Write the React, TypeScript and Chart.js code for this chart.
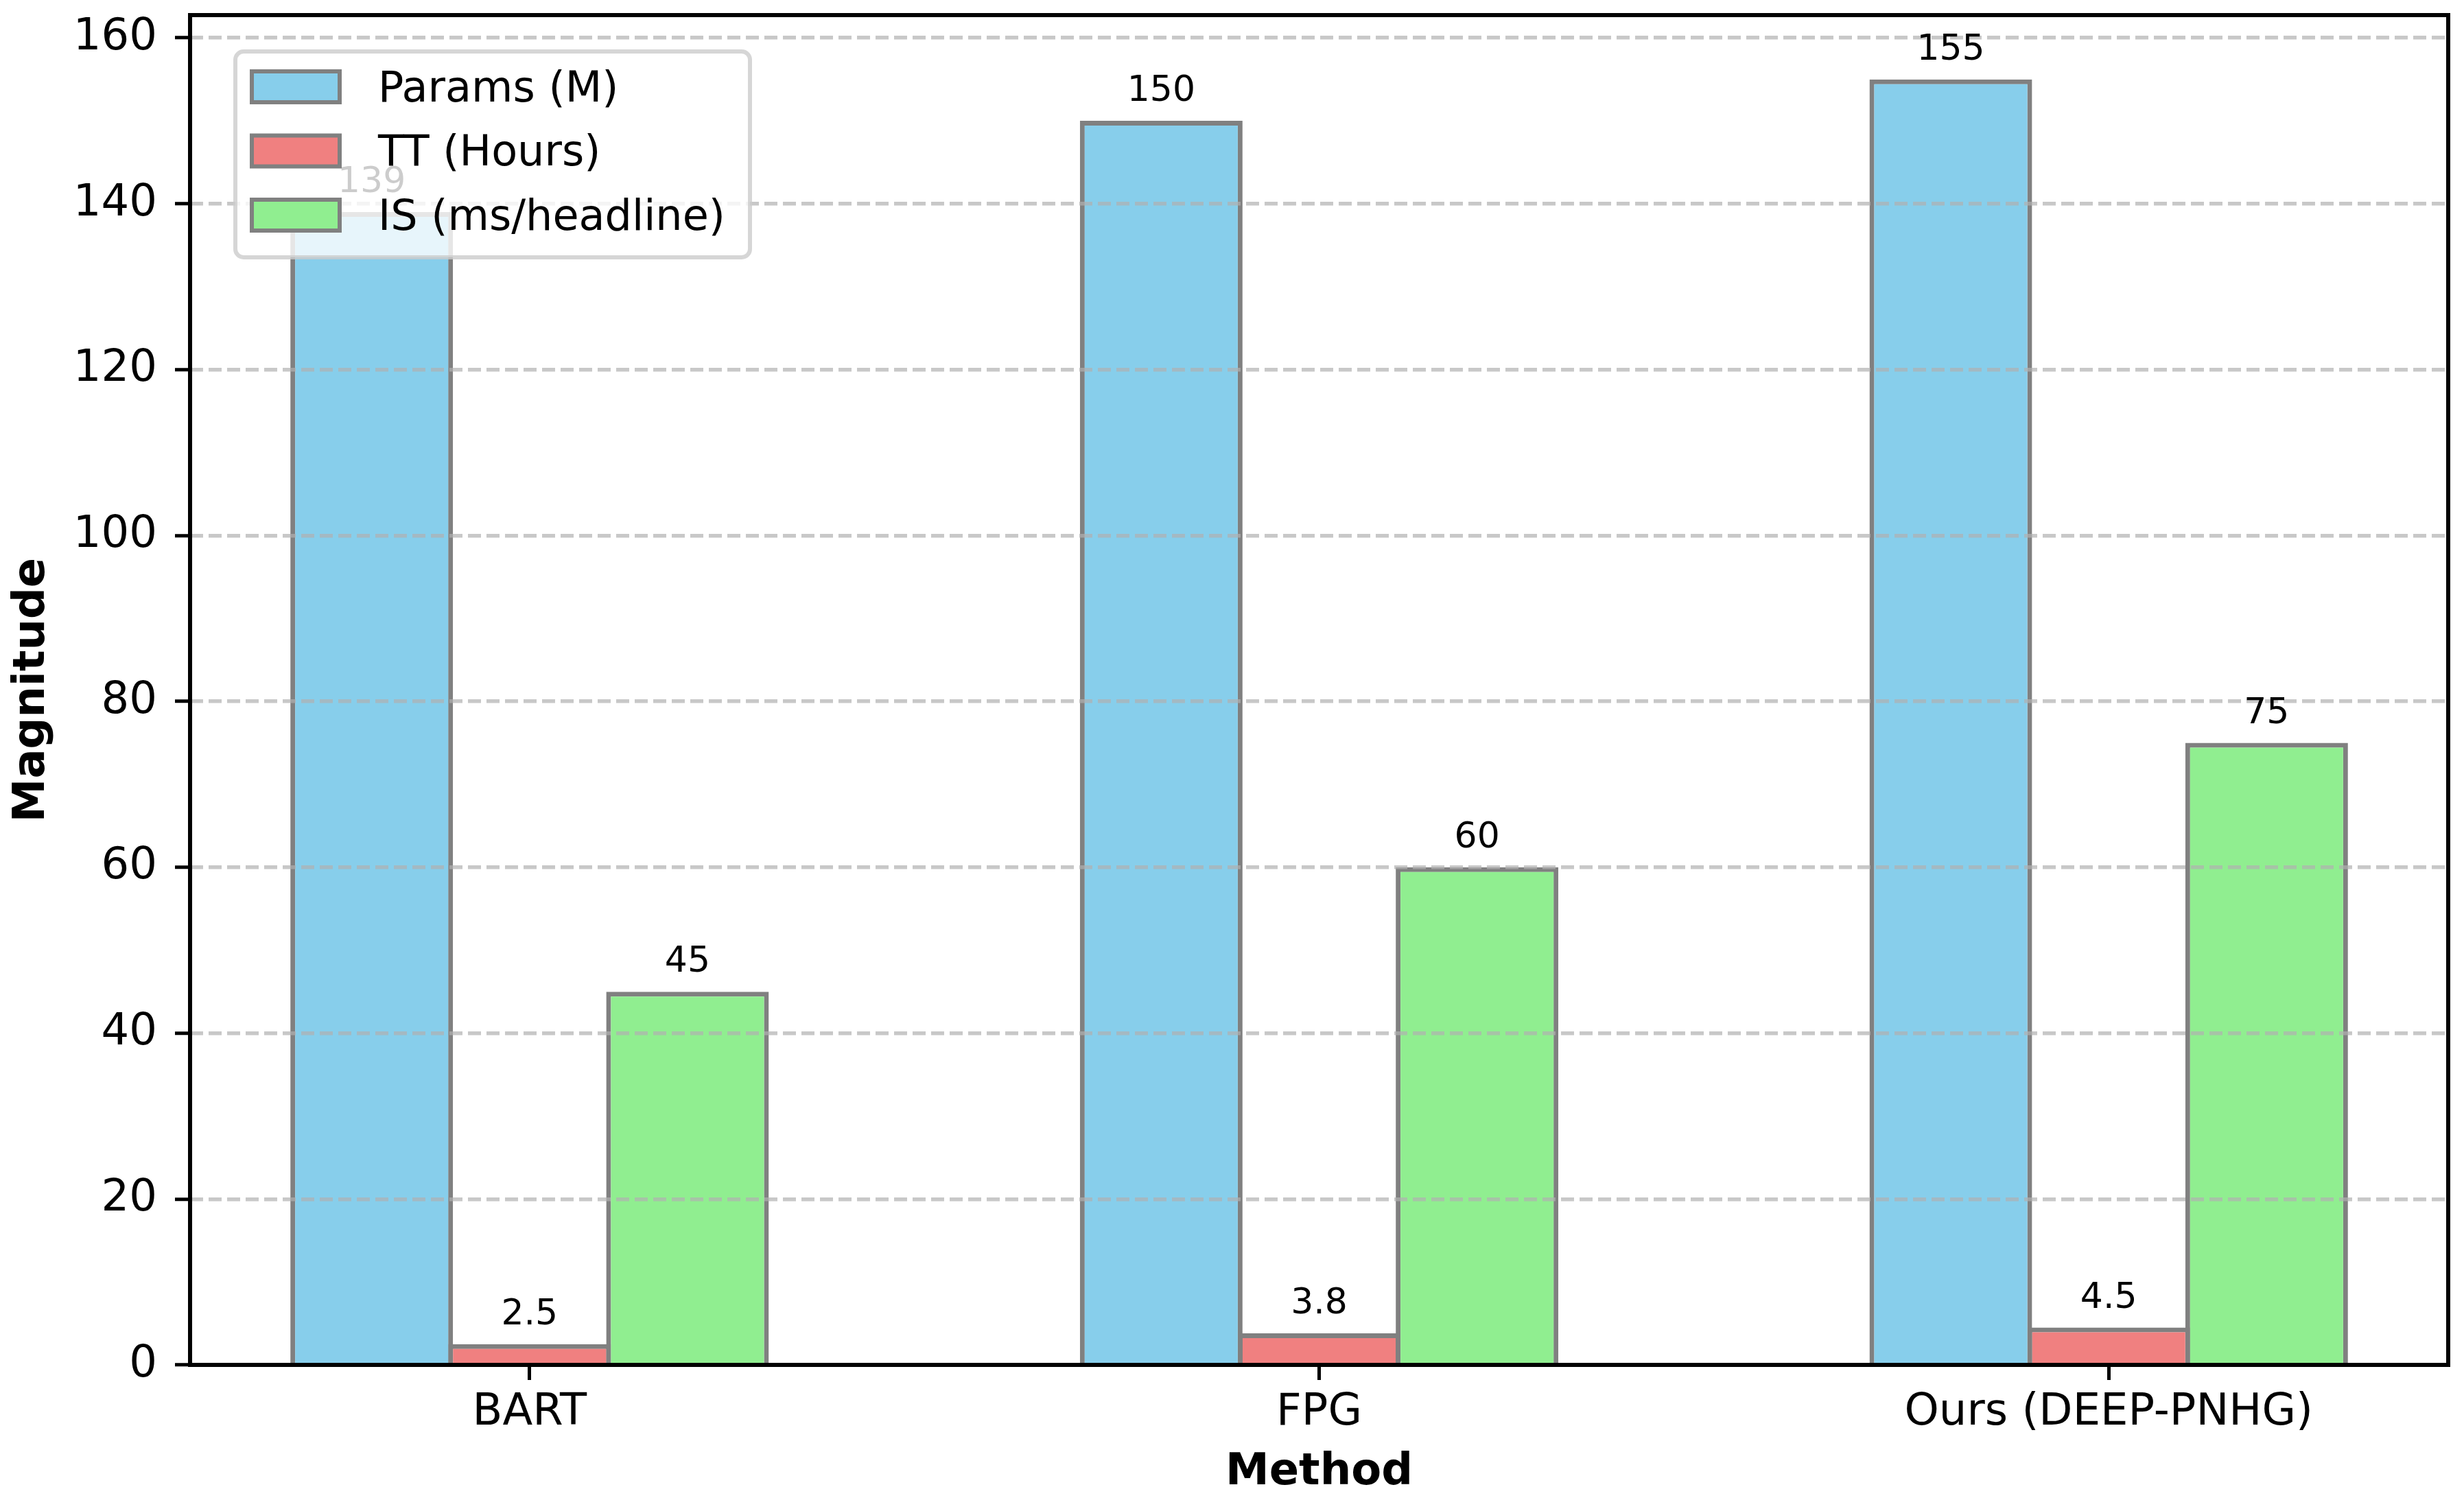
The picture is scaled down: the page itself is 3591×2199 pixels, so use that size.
import React, { useEffect, useRef } from 'react';
import { Chart, registerables } from 'chart.js';

Chart.register(...registerables);

const categories = ['BART', 'FPG', 'Ours (DEEP-PNHG)'];
const seriesNames = ['Params (M)', 'TT (Hours)', 'IS (ms/headline)'];
const paramsM = [139, 150, 155];
const ttHours = [2.5, 3.8, 4.5];
const isMs = [45, 60, 75];
const yTicks = [0, 20, 40, 60, 80, 100, 120, 140, 160];
const seriesColors = ['#87CEEB', '#F08080', '#90EE90'];

const W = 3591;
const H = 2199;
const FONT = '"DejaVu Sans", "Liberation Sans", sans-serif';

const overlay = {
  id: 'overlay',
  afterDraw(chart: any) {
    const ctx = chart.ctx as CanvasRenderingContext2D;
    const a = chart.chartArea;
    ctx.save();
    // spines
    ctx.strokeStyle = '#000';
    ctx.lineWidth = 6;
    ctx.lineJoin = 'miter';
    ctx.setLineDash([]);
    ctx.strokeRect(a.left, a.top, a.right - a.left, a.bottom - a.top);

    // value labels
    ctx.font = `52px ${FONT}`;
    ctx.fillStyle = '#000';
    ctx.textAlign = 'center';
    ctx.textBaseline = 'alphabetic';
    chart.data.datasets.forEach((ds: any, di: number) => {
      const meta = chart.getDatasetMeta(di);
      meta.data.forEach((el: any, i: number) => {
        const v = ds.data[i].y;
        ctx.fillText(String(v), el.x, el.y - 29);
      });
    });

    // legend
    const L = { x: 343, y: 75, w: 750, h: 300, r: 12 };
    ctx.fillStyle = 'rgba(255,255,255,0.8)';
    ctx.strokeStyle = 'rgba(204,204,204,0.8)';
    ctx.lineWidth = 6;
    ctx.beginPath();
    (ctx as any).roundRect(L.x, L.y, L.w, L.h, L.r);
    ctx.fill();
    ctx.stroke();
    chart.data.datasets.forEach((ds: any, i: number) => {
      const cy = 126.5 + i * 93.5;
      ctx.fillStyle = ds.backgroundColor;
      ctx.fillRect(367, cy - 22.5, 128, 45);
      ctx.strokeStyle = '#808080';
      ctx.lineWidth = 6;
      ctx.strokeRect(367, cy - 22.5, 128, 45);
      ctx.fillStyle = '#000';
      ctx.font = `62px ${FONT}`;
      ctx.textAlign = 'left';
      ctx.textBaseline = 'alphabetic';
      ctx.fillText(ds.label, 551, cy + 21);
    });
    ctx.restore();
  },
};

export default function App() {
  const ref = useRef<HTMLCanvasElement | null>(null);

  useEffect(() => {
    if (!ref.current) return;
    Chart.defaults.font.family = FONT;
    const seriesValues = [paramsM, ttHours, isMs];
    const chart = new Chart(ref.current, {
      type: 'bar',
      data: {
        datasets: seriesNames.map((name, k) => ({
          label: name,
          data: categories.map((_, i) => ({ x: i, y: seriesValues[k][i] })),
          backgroundColor: seriesColors[k],
          borderColor: '#808080',
          borderWidth: 7,
          borderSkipped: 'start',
          inflateAmount: 0,
          categoryPercentage: 0.6,
          barPercentage: 1.03,
        })),
      } as any,
      options: {
        responsive: false,
        maintainAspectRatio: false,
        devicePixelRatio: 1,
        animation: false,
        layout: { padding: { top: 22, right: 23, left: 0, bottom: 0 } },
        plugins: { legend: { display: false }, tooltip: { enabled: false } },
        scales: {
          x: {
            type: 'linear',
            min: -0.43,
            max: 2.43,
            offset: false,
            afterBuildTicks: (s: any) => {
              s.ticks = categories.map((_, i) => ({ value: i }));
            },
            afterFit: (s: any) => {
              s.height = 210;
              s.paddingLeft = 0;
              s.paddingRight = 0;
            },
            grid: {
              display: true,
              drawOnChartArea: false,
              drawTicks: true,
              tickLength: 22,
              tickWidth: 5,
              tickColor: '#000',
              offset: false,
            },
            border: { display: false },
            ticks: {
              callback: (v: any) => categories[v] ?? '',
              color: '#000',
              font: { size: 64 },
              padding: 10,
              maxRotation: 0,
              autoSkip: false,
            },
            title: {
              display: true,
              text: 'Method',
              color: '#000',
              font: { size: 64, weight: 'bold' },
              padding: { top: 0, bottom: 14 },
            },
          },
          y: {
            type: 'linear',
            min: 0,
            max: 162.75,
            afterBuildTicks: (s: any) => {
              s.ticks = yTicks.map((v) => ({ value: v }));
            },
            afterFit: (s: any) => {
              s.width = 277;
              s.paddingTop = 0;
              s.paddingBottom = 0;
            },
            grid: {
              color: 'rgba(176,176,176,0.7)',
              lineWidth: 5.5,
              z: 1,
              drawTicks: true,
              tickLength: 22,
              tickWidth: 5,
              tickColor: '#000',
            },
            border: { display: false, dash: [19, 8] },
            ticks: {
              color: '#000',
              font: { size: 64 },
              padding: 26,
              callback: (v: any) => String(v),
            },
            title: {
              display: true,
              text: 'Magnitude',
              color: '#000',
              font: { size: 64, weight: 'bold' },
              padding: { top: 9, bottom: 0 },
            },
          },
        },
      } as any,
      plugins: [overlay],
    });
    return () => chart.destroy();
  }, []);

  return (
    <div style={{ position: 'fixed', left: 0, top: 0, width: W, height: H, background: '#fff' }}>
      <canvas ref={ref} width={W} height={H} style={{ display: 'block', width: W, height: H }} />
    </div>
  );
}
